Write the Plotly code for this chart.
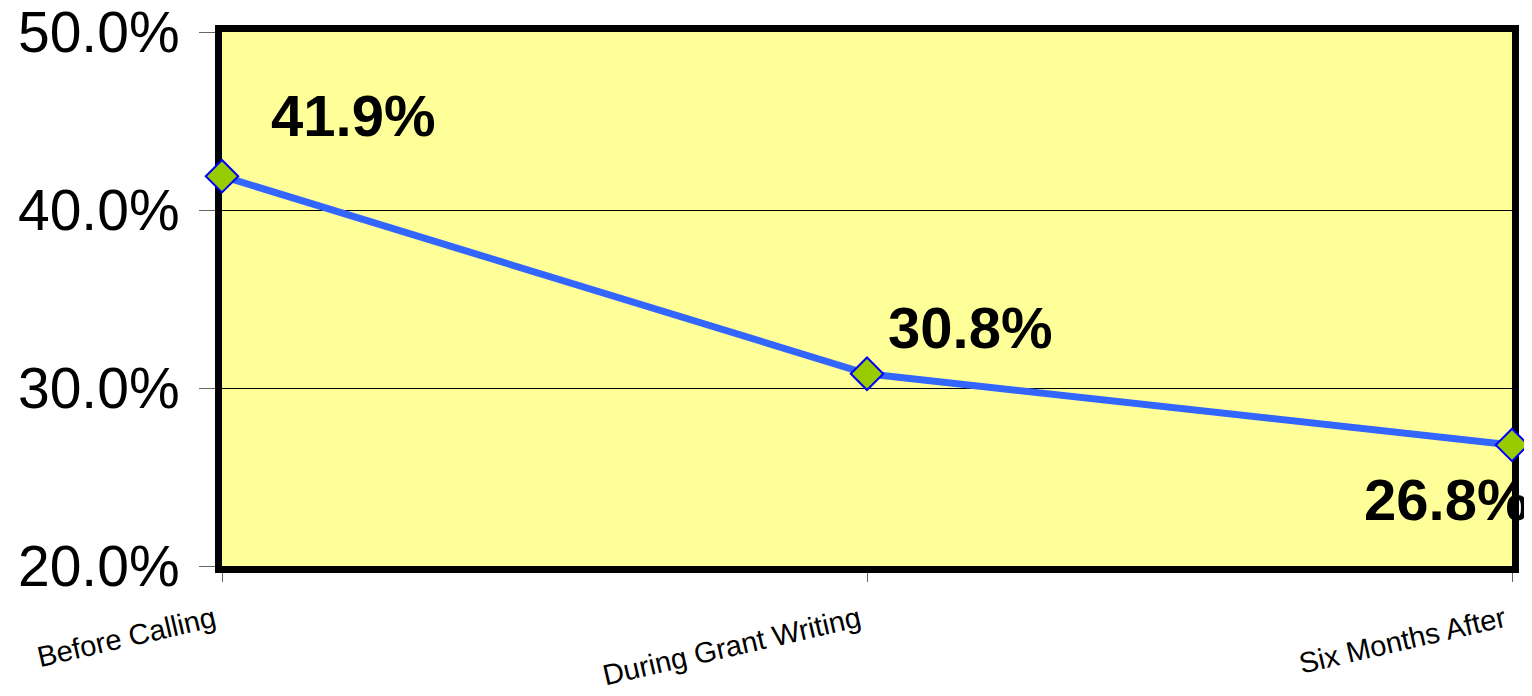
import plotly.graph_objects as go

categories = ["Before Calling", "During Grant Writing", "Six Months After"]
values = [0.419, 0.308, 0.268]
label_xshift = [131, 103, -66]
label_yshift = [61, 46, -55]

FONT = "Liberation Sans, Arial, sans-serif"

# the page body has an 8px default margin; compensate so the plot sits where the reference has it
BODY = 8

fig = go.Figure()
fig.add_trace(go.Scatter(
    x=categories, y=values, mode="lines+markers",
    line=dict(color="#3366FF", width=7),
    marker=dict(symbol="diamond", size=25, color="#99CC00",
                line=dict(color="#0000FF", width=2)),
    cliponaxis=False, hoverinfo="skip", showlegend=False,
))

for c, v, dx, dy in zip(categories, values, label_xshift, label_yshift):
    fig.add_annotation(x=c, y=v, text=f"<b>{v*100:.1f}%</b>", showarrow=False,
                       xshift=dx, yshift=dy,
                       font=dict(family=FONT, size=58, color="black"))

fig.update_layout(
    width=1532 - BODY, height=696 - BODY,
    margin=dict(l=222 - BODY, r=20, t=32 - BODY, b=130),
    paper_bgcolor="white", plot_bgcolor="#FFFF99",
    font=dict(family=FONT, color="black"),
    xaxis=dict(type="category", range=[0, 2], showgrid=False,
               tickmode="array", tickvals=categories,
               ticktext=[c + "\u00a0" for c in categories],
               showline=True, linewidth=7, linecolor="black", mirror=True,
               ticks="outside", ticklen=9, tickcolor="#666666", tickwidth=1,
               tickangle=-13, tickfont=dict(size=29), layer="below traces",
               zeroline=False, automargin=False, ticklabeloverflow="allow",
               ticklabelstandoff=8),
    yaxis=dict(range=[0.2, 0.5], dtick=0.1, tickformat=".1%",
               showgrid=True, gridcolor="black", gridwidth=1,
               showline=True, linewidth=7, linecolor="black", mirror=True,
               ticks="outside", ticklen=16, tickcolor="#666666", tickwidth=1,
               tickfont=dict(size=57), layer="below traces", zeroline=False,
               ticklabelstandoff=8, automargin=False, ticklabeloverflow="allow"),
)

fig.write_html("out.html")
